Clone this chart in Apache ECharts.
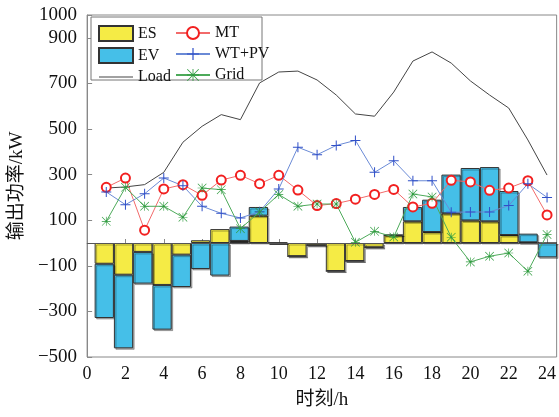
<!DOCTYPE html>
<html>
<head>
<meta charset="utf-8">
<script src="https://cdn.jsdelivr.net/npm/echarts@6/dist/echarts.min.js"></script>
<style>
html, body { margin: 0; padding: 0; background: #fff; }
#main { width: 559px; height: 417px; }
</style>
</head>
<body>
<div id="main"></div>
<script>
var hours = [1, 2, 3, 4, 5, 6, 7, 8, 9, 10, 11, 12, 13, 14, 15, 16, 17, 18, 19, 20, 21, 22, 23, 24];
var esData = [-91, -139, -39, -184, -51, 12, 61, 9, 120, 0, -58, -10, -123, -79, -19, 35, 95, 48, 130, 99, 95, 35, 3, 0];
var evData = [-238, -323, -139, -196, -142, -114, -143, 63, 38, 0, 0, 0, 0, 0, 0, 0, 63, 142, 170, 230, 238, 193, 38, -63];
var loadData = [241, 246, 256, 310, 442, 512, 563, 541, 702, 750, 754, 715, 649, 566, 556, 662, 798, 838, 789, 711, 649, 592, 452, 298];
var mtData = [244, 285, 56, 237, 256, 209, 276, 297, 260, 297, 232, 164, 173, 192, 213, 235, 158, 174, 275, 268, 231, 241, 273, 123];
var wtpvData = [224, 168, 216, 285, 251, 161, 130, 110, 137, 237, 420, 387, 428, 450, 310, 361, 273, 273, 135, 136, 136, 164, 260, 200];
var gridData = [95, 244, 161, 161, 113, 241, 234, 63, 136, 213, 161, 171, 171, 3, 51, 26, 215, 202, 25, -83, -58, -44, -124, 37];
var xTicks = [0, 2, 4, 6, 8, 10, 12, 14, 16, 18, 20, 22, 24];
var yTicks = [-500, -300, -100, 100, 300, 500, 700, 900, 1000];

var font = "'Liberation Serif', 'Times New Roman', 'Noto Sans CJK SC', serif";
var plusPath = 'path://M9,0h2v20h-2zM0,9h20v2h-20z';
var starPath = 'path://M9.3,0h1.4v20h-1.4zM0,9.3h20v1.4h-20zM1,0L20,19L19,20L0,1zM19,0L20,1L1,20L0,19z';
var dashPath = 'path://M0,0h40v1.2h-40z';

// plot box: 0..24.5 h across the grid, bars sit on hour bands 0.5..24.5
var plotLeft = 85, plotRight = 2, plotWidth = 559 - plotLeft - plotRight;
var hourPx = plotWidth / 24.5;

function pairs (vals) {
    var out = [];
    for (var i = 0; i < hours.length; i++) {
        out.push([hours[i], vals[i]]);
    }
    return out;
}

function barSeries (name, vals, color) {
    return {
        name : name,
        type : 'bar',
        stack : 'p',
        xAxisIndex : 1,
        yAxisIndex : 1,
        barWidth : '100%',
        data : vals,
        itemStyle : {
            color : color,
            borderColor : '#333',
            borderWidth : 1,
            shadowColor : 'rgba(0,0,0,0.3)',
            shadowOffsetX : 1.5,
            shadowOffsetY : 1.5,
            shadowBlur : 0
        }
    };
}

function lineSeries (name, vals, color, markColor, symbol, size) {
    return {
        name : name,
        type : 'line',
        data : pairs(vals),
        symbol : symbol,
        symbolSize : size,
        showSymbol : symbol !== 'none',
        z : 3,
        lineStyle : { color : color, width : 1 },
        itemStyle : { color : markColor, borderColor : markColor, borderWidth : symbol === 'emptyCircle' ? 2 : 0 }
    };
}

var series = [
    barSeries('ES', esData, '#F5EB45'),
    barSeries('EV', evData, '#45BFE8'),
    lineSeries('Load', loadData, '#444', '#444', 'none', 0),
    lineSeries('MT', mtData, '#F26A6A', '#F22020', 'emptyCircle', 9),
    lineSeries('WT+PV', wtpvData, '#6A8AD6', '#3050C8', plusPath, 10),
    lineSeries('Grid', gridData, '#4DAA5A', '#2E9B3E', starPath, 9)
];
series[2].markLine = {
    silent : true,
    symbol : 'none',
    label : { show : false },
    lineStyle : { color : '#555', width : 1, type : 'solid' },
    data : [ { yAxis : 0 } ]
};

var legendText = { fontFamily : font, fontSize : 16, color : '#111', lineHeight : 15 };

var option = {
    animation : false,
    textStyle : { fontFamily : font },
    grid : [ {
        left : plotLeft,
        right : plotRight,
        top : 15,
        bottom : 60,
        show : true,
        borderColor : '#888',
        borderWidth : 1
    }, {
        left : plotLeft + hourPx * 0.5,
        right : plotRight,
        top : 15,
        bottom : 60
    } ],
    graphic : [ {
        type : 'rect',
        z : 3,
        shape : { x : 91, y : 17, width : 171, height : 63 },
        style : { fill : '#fff', stroke : '#777', lineWidth : 1 }
    } ],
    legend : [ {
        orient : 'vertical',
        left : 93,
        top : 20,
        itemWidth : 34,
        itemHeight : 15,
        itemGap : 5,
        textStyle : legendText,
        data : [ { name : 'ES', icon : 'rect' }, { name : 'EV', icon : 'rect' }, { name : 'Load', icon : dashPath } ]
    }, {
        orient : 'vertical',
        left : 170,
        top : 20,
        itemWidth : 34,
        itemHeight : 15,
        itemGap : 5,
        textStyle : legendText,
        data : [ 'MT', 'WT+PV', 'Grid' ]
    } ],
    xAxis : [ {
        type : 'value',
        gridIndex : 0,
        min : 0,
        max : 24.5,
        name : '时刻/h',
        nameLocation : 'middle',
        nameGap : 34,
        nameTextStyle : { fontFamily : font, fontSize : 19, color : '#111' },
        axisLine : { lineStyle : { color : '#888' } },
        axisTick : { inside : true, length : 4, customValues : xTicks, lineStyle : { color : '#888' } },
        axisLabel : { customValues : xTicks, fontFamily : font, fontSize : 18, color : '#111', margin : 8 },
        splitLine : { show : false }
    }, {
        type : 'category',
        gridIndex : 1,
        data : hours,
        show : false
    } ],
    yAxis : [ {
        type : 'value',
        gridIndex : 0,
        min : -500,
        max : 1000,
        name : '输出功率/kW',
        nameLocation : 'middle',
        nameGap : 58,
        nameTextStyle : { fontFamily : font, fontSize : 19, color : '#111' },
        axisLine : { show : true, lineStyle : { color : '#888' } },
        axisTick : { inside : true, length : 5, customValues : yTicks, lineStyle : { color : '#888' } },
        axisLabel : {
            customValues : yTicks,
            fontFamily : font,
            fontSize : 19,
            color : '#111',
            margin : 10,
            formatter : function (v) {
                return String(v).replace('-', '\u2212');
            }
        },
        splitLine : { show : false }
    }, {
        type : 'value',
        gridIndex : 1,
        min : -500,
        max : 1000,
        show : false
    } ],
    series : series
};

var chart = echarts.init(document.getElementById('main'));
chart.setOption(option);
</script>
</body>
</html>
